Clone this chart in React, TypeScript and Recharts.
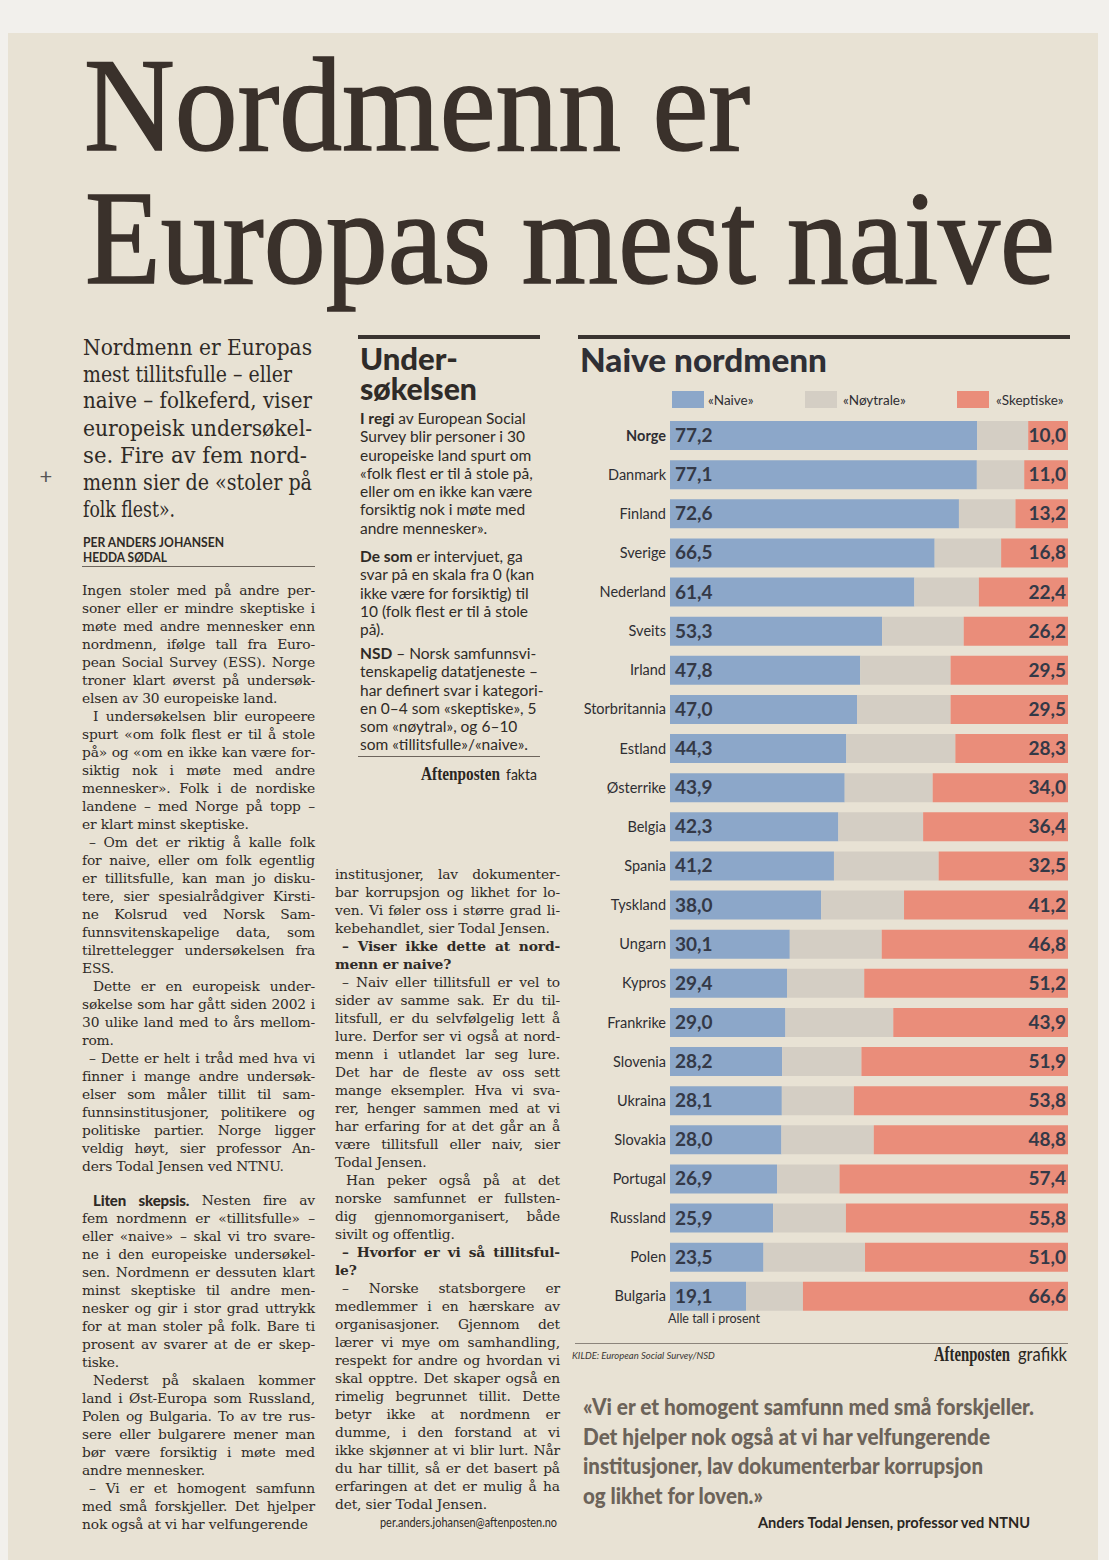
import React from 'react'
import { Bar, BarChart, LabelList, XAxis, YAxis } from 'recharts'

const countries = [
  'Norge', 'Danmark', 'Finland', 'Sverige', 'Nederland', 'Sveits', 'Irland', 'Storbritannia',
  'Estland', 'Østerrike', 'Belgia', 'Spania', 'Tyskland', 'Ungarn', 'Kypros', 'Frankrike',
  'Slovenia', 'Ukraina', 'Slovakia', 'Portugal', 'Russland', 'Polen', 'Bulgaria',
]
const naive = [77.2, 77.1, 72.6, 66.5, 61.4, 53.3, 47.8, 47.0, 44.3, 43.9, 42.3, 41.2, 38.0, 30.1, 29.4, 29.0, 28.2, 28.1, 28.0, 26.9, 25.9, 23.5, 19.1]
const neutral = [12.8, 11.9, 14.2, 16.7, 16.2, 20.5, 22.7, 23.5, 27.4, 22.1, 21.3, 26.3, 20.8, 23.1, 19.4, 27.1, 19.9, 18.1, 23.2, 15.7, 18.3, 25.5, 14.3]
const skeptic = [10.0, 11.0, 13.2, 16.8, 22.4, 26.2, 29.5, 29.5, 28.3, 34.0, 36.4, 32.5, 41.2, 46.8, 51.2, 43.9, 51.9, 53.8, 48.8, 57.4, 55.8, 51.0, 66.6]
const legendLabels = ['«Naive»', '«Nøytrale»', '«Skeptiske»']

const BLUE = '#8ca7c9'
const GRAY = '#d4cec4'
const RED = '#ea8d7a'
const INK = '#2f2a26'
const VALUE_INK = '#343947'
const PAPER = '#e8e2d4'
const SANS = 'Lato, "Open Sans", sans-serif'
const SERIF = '"DejaVu Serif", serif'

const rows = countries.map((country, i) => ({
  country,
  naive: naive[i],
  neutral: neutral[i],
  skeptic: skeptic[i],
}))

const lead = [
  'Nordmenn er Europas',
  'mest tillitsfulle – eller',
  'naive – folkeferd, viser',
  'europeisk undersøkel-',
  'se. Fire av fem nord-',
  'menn sier de «stoler på',
  'folk flest».',
]
const leadWidths = [229, 209, 229, 229, 224, 229, 92]
const leadBaselines = [355, 382, 408, 436, 463, 490, 517]

const leftTop = [
  [
    'Ingen stoler med på andre per-',
    'soner eller er mindre skeptiske i',
    'møte med andre mennesker enn',
    'nordmenn, ifølge tall fra Euro-',
    'pean Social Survey (ESS). Norge',
    'troner klart øverst på undersøk-',
    'elsen av 30 europeiske land.',
  ],
  [
    'I undersøkelsen blir europeere',
    'spurt «om folk flest er til å stole',
    'på» og «om en ikke kan være for-',
    'siktig nok i møte med andre',
    'mennesker». Folk i de nordiske',
    'landene – med Norge på topp –',
    'er klart minst skeptiske.',
  ],
  [
    '– Om det er riktig å kalle folk',
    'for naive, eller om folk egentlig',
    'er tillitsfulle, kan man jo disku-',
    'tere, sier spesialrådgiver Kirsti-',
    'ne Kolsrud ved Norsk Sam-',
    'funnsvitenskapelige data, som',
    'tilrettelegger undersøkelsen fra',
    'ESS.',
  ],
  [
    'Dette er en europeisk under-',
    'søkelse som har gått siden 2002 i',
    '30 ulike land med to års mellom-',
    'rom.',
  ],
  [
    '– Dette er helt i tråd med hva vi',
    'finner i mange andre undersøk-',
    'elser som måler tillit til sam-',
    'funnsinstitusjoner, politikere og',
    'politiske partier. Norge ligger',
    'veldig høyt, sier professor An-',
    'ders Todal Jensen ved NTNU.',
  ],
]

const leftBottom = [
  [
    '^^Liten skepsis.^^ Nesten fire av',
    'fem nordmenn er «tillitsfulle» –',
    'eller «naive» – skal vi tro svare-',
    'ne i den europeiske undersøkel-',
    'sen. Nordmenn er dessuten klart',
    'minst skeptiske til andre men-',
    'nesker og gir i stor grad uttrykk',
    'for at man stoler på folk. Bare ti',
    'prosent av svarer at de er skep-',
    'tiske.',
  ],
  [
    'Nederst på skalaen kommer',
    'land i Øst-Europa som Russland,',
    'Polen og Bulgaria. To av tre rus-',
    'sere eller bulgarere mener man',
    'bør være forsiktig i møte med',
    'andre mennesker.',
  ],
  [
    '– Vi er et homogent samfunn',
    'med små forskjeller. Det hjelper',
    'nok også at vi har velfungerende',
  ],
]

const middle = [
  [
    'institusjoner, lav dokumenter-',
    'bar korrupsjon og likhet for lo-',
    'ven. Vi føler oss i større grad li-',
    'kebehandlet, sier Todal Jensen.',
  ],
  ['**– Viser ikke dette at nord-**', '**menn er naive?**'],
  [
    '– Naiv eller tillitsfull er vel to',
    'sider av samme sak. Er du til-',
    'litsfull, er du selvfølgelig lett å',
    'lure. Derfor ser vi også at nord-',
    'menn i utlandet lar seg lure.',
    'Det har de fleste av oss sett',
    'mange eksempler. Hva vi sva-',
    'rer, henger sammen med at vi',
    'har erfaring for at det går an å',
    'være tillitsfull eller naiv, sier',
    'Todal Jensen.',
  ],
  [
    'Han peker også på at det',
    'norske samfunnet er fullsten-',
    'dig gjennomorganisert, både',
    'sivilt og offentlig.',
  ],
  ['**– Hvorfor er vi så tillitsful-**', '**le?**'],
  [
    '– Norske statsborgere er',
    'medlemmer i en hærskare av',
    'organisasjoner. Gjennom det',
    'lærer vi mye om samhandling,',
    'respekt for andre og hvordan vi',
    'skal opptre. Det skaper også en',
    'rimelig begrunnet tillit. Dette',
    'betyr ikke at nordmenn er',
    'dumme, i den forstand at vi',
    'ikke skjønner at vi blir lurt. Når',
    'du har tillit, så er det basert på',
    'erfaringen at det er mulig å ha',
    'det, sier Todal Jensen.',
  ],
]

const fakta = [
  [
    '**I regi** av European Social',
    'Survey blir personer i 30',
    'europeiske land spurt om',
    '«folk flest er til å stole på,',
    'eller om en ikke kan være',
    'forsiktig nok i møte med',
    'andre mennesker».',
  ],
  [
    '**De som** er intervjuet, ga',
    'svar på en skala fra 0 (kan',
    'ikke være for forsiktig) til',
    '10 (folk flest er til å stole',
    'på).',
  ],
  [
    '**NSD** – Norsk samfunnsvi-',
    'tenskapelig datatjeneste –',
    'har definert svar i kategori-',
    'en 0–4 som «skeptiske», 5',
    'som «nøytral», og 6–10',
    'som «tillitsfulle»/«naive».',
  ],
]

const quote = [
  '«Vi er et homogent samfunn med små forskjeller.',
  'Det hjelper nok også at vi har velfungerende',
  'institusjoner, lav dokumenterbar korrupsjon',
  'og likhet for loven.»',
]

type Seg = { text: string; style: React.CSSProperties }

function parse(line: string): Seg[] {
  const parts = line.split(/(\*\*[^*]+\*\*|\^\^[^^]+\^\^)/).filter((p) => p !== '')
  return parts.map((p) => {
    if (p.startsWith('**')) return { text: p.slice(2, -2), style: { fontWeight: 700 } }
    if (p.startsWith('^^')) return { text: p.slice(2, -2), style: { fontWeight: 900, fontFamily: SANS, fontSize: 15 } }
    return { text: p, style: {} }
  })
}

function TextLine({ line, justify, indent, lh }: { line: string; justify: boolean; indent: number; lh: number }) {
  const segs = parse(line)
  const base: React.CSSProperties = { height: lh, lineHeight: `${lh}px`, paddingLeft: indent, whiteSpace: 'pre' }
  if (!justify) {
    return (
      <div style={base}>
        {segs.map((s, i) => (
          <span key={i} style={s.style}>{s.text}</span>
        ))}
      </div>
    )
  }
  const words: Seg[] = []
  segs.forEach((s) => {
    s.text.split(/ +/).filter((w) => w !== '').forEach((w) => words.push({ text: w, style: s.style }))
  })
  return (
    <div style={{ ...base, display: 'flex', justifyContent: 'space-between' }}>
      {words.map((w, i) => (
        <span key={i} style={w.style}>{w.text}</span>
      ))}
    </div>
  )
}

function Column({ paras, left, top, width, lh, firstIndent }: {
  paras: string[][]; left: number; top: number; width: number; lh: number; firstIndent: boolean
}) {
  return (
    <div style={{ position: 'absolute', left, top, width, fontFamily: SERIF, fontSize: 13.8, color: INK, letterSpacing: -0.15 }}>
      {paras.map((p, pi) =>
        p.map((line, li) => {
          const plain = line.replace(/\*\*|\^\^/g, '')
          const indent = li === 0 && (pi > 0 || firstIndent) ? (plain.startsWith('–') ? 7 : 11) : 0
          return <TextLine key={`${pi}-${li}`} line={line} justify={li < p.length - 1} indent={indent} lh={lh} />
        }),
      )}
    </div>
  )
}

function Ragged({ lines, left, top, lh, style }: { lines: string[]; left: number; top: number; lh: number; style: React.CSSProperties }) {
  return (
    <div style={{ position: 'absolute', left, top, ...style }}>
      {lines.map((l, i) => (
        <TextLine key={i} line={l} justify={false} indent={0} lh={lh} />
      ))}
    </div>
  )
}

function CountryTick(props: any) {
  const { x, y, payload } = props
  return (
    <text x={x} y={y} dy={5} textAnchor="end" fontFamily={SANS} fontSize={14.5}
      fontWeight={payload.value === 'Norge' ? 700 : 400} fill="#2e2e33">
      {payload.value}
    </text>
  )
}

function NaiveLabel(props: any) {
  const { x, y, height, value } = props
  return (
    <text x={x + 5} y={y + height / 2 + 6.5} fontFamily={SANS} fontWeight={700} fontSize={19} fill={VALUE_INK}>
      {Number(value).toFixed(1).replace('.', ',')}
    </text>
  )
}

function SkepticLabel(props: any) {
  const { x, y, width, height, value } = props
  return (
    <text x={x + width - 2} y={y + height / 2 + 6.5} textAnchor="end" fontFamily={SANS} fontWeight={700} fontSize={19} fill={VALUE_INK}>
      {Number(value).toFixed(1).replace('.', ',')}
    </text>
  )
}

function TrustChart() {
  return (
    <div style={{ position: 'absolute', left: 575, top: 416, width: 495, height: 900 }}>
      <BarChart width={495} height={900} data={rows} layout="vertical" margin={{ top: 0, right: 2, bottom: 0, left: 0 }}>
        <XAxis type="number" domain={[0, 100]} hide />
        <YAxis type="category" dataKey="country" width={95} axisLine={false} tickLine={false}
          tickSize={2} tickMargin={2} interval={0} tick={<CountryTick />} />
        <Bar dataKey="naive" stackId="s" fill={BLUE} barSize={29} isAnimationActive={false}>
          <LabelList dataKey="naive" content={<NaiveLabel />} />
        </Bar>
        <Bar dataKey="neutral" stackId="s" fill={GRAY} barSize={29} isAnimationActive={false} />
        <Bar dataKey="skeptic" stackId="s" fill={RED} barSize={29} isAnimationActive={false}>
          <LabelList dataKey="skeptic" content={<SkepticLabel />} />
        </Bar>
      </BarChart>
    </div>
  )
}

export default function App() {
  const legendColors = [BLUE, GRAY, RED]
  const legendX = [672, 805, 957]
  const legendTextX = [708, 843, 996]
  return (
    <div style={{ position: 'relative', width: 1109, height: 1560, background: '#f2f0ec', overflow: 'hidden' }}>
      <style>{'body{margin:0}'}</style>
      <div style={{ position: 'absolute', left: 8, top: 33, width: 1090, height: 1527, background: PAPER }} />

      <Column paras={leftTop} left={82} top={581} width={233} lh={18} firstIndent={false} />
      <Column paras={leftBottom} left={82} top={1191} width={233} lh={18} firstIndent={true} />
      <Column paras={middle} left={335} top={865} width={225} lh={18} firstIndent={false} />

      {fakta.map((p, i) => (
        <Ragged key={i} lines={p} left={360} top={[409, 547, 644][i]} lh={18.3}
          style={{ fontFamily: SANS, fontSize: 15.5, color: INK }} />
      ))}

      <TrustChart />

      <svg width={1109} height={1560} style={{ position: 'absolute', left: 0, top: 0, pointerEvents: 'none' }}>
        <g fontFamily='"Liberation Serif", serif' fontSize={134} fill="#3a312b" stroke="#3a312b" strokeWidth={1.6}>
          <text x={84} y={150} textLength={666} lengthAdjust="spacingAndGlyphs">Nordmenn er</text>
          <text x={85} y={283} textLength={970} lengthAdjust="spacingAndGlyphs">Europas mest naive</text>
        </g>

        <g fontFamily={SERIF} fontSize={22.5} fill={INK}>
          {lead.map((l, i) => (
            <text key={i} x={83} y={leadBaselines[i]} textLength={leadWidths[i]} lengthAdjust="spacingAndGlyphs">{l}</text>
          ))}
        </g>

        <text x={46} y={484} fontSize={22} fontFamily={SANS} fill="#555" textAnchor="middle">+</text>

        <g fontFamily={SANS} fontWeight={700} fontSize={13.5} fill={INK}>
          <text x={83} y={547} textLength={141} lengthAdjust="spacingAndGlyphs">PER ANDERS JOHANSEN</text>
          <text x={83} y={562} textLength={84} lengthAdjust="spacingAndGlyphs">HEDDA SØDAL</text>
        </g>
        <rect x={82} y={566} width={233} height={1} fill="#6d655c" />

        <rect x={358} y={335} width={182} height={4} fill="#3a3430" />
        <g fontFamily={SANS} fontWeight={900} fontSize={30} fill="#2f2b28">
          <text x={360} y={370} textLength={98} lengthAdjust="spacingAndGlyphs">Under-</text>
          <text x={360} y={400} textLength={117} lengthAdjust="spacingAndGlyphs">søkelsen</text>
        </g>
        <rect x={358} y={756} width={182} height={1} fill="#6d655c" />
        <text x={421} y={780} fontFamily='"Liberation Serif", serif' fontWeight={700} fontSize={18} fill="#2a2622"
          textLength={79} lengthAdjust="spacingAndGlyphs">Aftenposten</text>
        <text x={506} y={780} fontFamily={SANS} fontSize={16} fill="#2a2622"
          textLength={31} lengthAdjust="spacingAndGlyphs">fakta</text>

        <text x={557} y={1527} textAnchor="end" fontFamily={SANS} fontSize={13.5} fill={INK} textLength={177} lengthAdjust="spacingAndGlyphs">
          per.anders.johansen@aftenposten.no
        </text>

        <rect x={578} y={335} width={492} height={4} fill="#3a3430" />
        <text x={580} y={372} fontFamily={SANS} fontWeight={900} fontSize={33} fill="#2f2f35" textLength={247} lengthAdjust="spacingAndGlyphs">
          Naive nordmenn
        </text>

        {legendLabels.map((label, i) => (
          <g key={label}>
            <rect x={legendX[i]} y={391} width={32} height={17} fill={legendColors[i]} />
            <text x={legendTextX[i]} y={405} fontFamily={SANS} fontSize={13.5} fill="#2e2e33">{label}</text>
          </g>
        ))}

        <text x={668} y={1323} fontFamily={SANS} fontSize={12.5} fill="#2e2e33">Alle tall i prosent</text>
        <rect x={575} y={1343} width={493} height={1} fill="#8b847b" />
        <text x={572} y={1359} fontFamily={SANS} fontStyle="italic" fontSize={9.5} fill="#3a3633">KILDE: European Social Survey/NSD</text>
        <text x={934} y={1361} fontFamily='"Liberation Serif", serif' fontWeight={700} fontSize={20} fill="#2a2622"
          textLength={76} lengthAdjust="spacingAndGlyphs">Aftenposten</text>
        <text x={1018} y={1361} fontFamily={SANS} fontSize={20} fill="#2a2622"
          textLength={49} lengthAdjust="spacingAndGlyphs">grafikk</text>

        <g fontFamily={SANS} fontWeight={900} fontSize={22} fill="#6c6359">
          {quote.map((q, i) => (
            <text key={i} x={583} y={1415 + i * 29.5} textLength={[451, 407, 400, 180][i]} lengthAdjust="spacingAndGlyphs">{q}</text>
          ))}
        </g>
        <text x={1030} y={1528} textAnchor="end" fontFamily={SANS} fontWeight={700} fontSize={14.5} fill="#2a2622"
          textLength={272} lengthAdjust="spacingAndGlyphs">
          Anders Todal Jensen, professor ved NTNU
        </text>
      </svg>
    </div>
  )
}
